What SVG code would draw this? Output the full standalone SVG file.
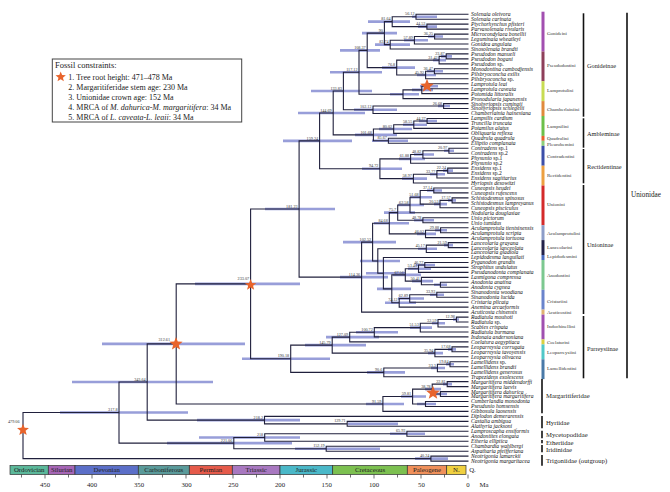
<svg xmlns="http://www.w3.org/2000/svg" width="670" height="492" viewBox="0 0 670 492">
<style>
.br{fill:none;stroke:#20203c;stroke-width:1.1}
.hpd{fill:none;stroke:#868dd2;stroke-width:2.6;opacity:.85}
.nl{font-family:"Liberation Serif",serif;font-size:4.2px;fill:#333;text-anchor:end}
.tip{font-family:"Liberation Serif",serif;font-size:5.6px;font-style:italic;fill:#111}
.tip tspan.n{font-style:normal}
.tr{font-family:"Liberation Serif",serif;font-size:5px;fill:#333}
.sf{font-family:"Liberation Serif",serif;font-size:6.3px;fill:#222}
.fm{font-family:"Liberation Serif",serif;font-size:6.7px;fill:#222}
.lg{font-family:"Liberation Serif",serif;font-size:8px;fill:#222}
.pe{font-family:"Liberation Serif",serif;font-size:6.8px;fill:#222;text-anchor:middle}
.ax{font-family:"Liberation Serif",serif;font-size:6.8px;fill:#222;text-anchor:middle}
.bk{stroke:#111;stroke-width:1.6}
.star{fill:#e8642c}
</style>
<defs>
<polygon id="star" points="0,-6 1.53,-2.1 5.71,-1.85 2.47,0.8 3.53,4.85 0,2.6 -3.53,4.85 -2.47,0.8 -5.71,-1.85 -1.53,-2.1"/>
</defs>
<rect width="670" height="492" fill="#fff"/>

<g id="hpd-bars">
<path class="hpd" d="M412 16.7H437M418 26.6H437M368 21.65H410M428 36.55H443M404 40.3H428M375 44.65H410M362 33.15H397M441 56.4H452M433 60.15H446M427 71.3H443M417 75H436M382 67.6H415M340 50.4H380M420 86.2H438M412 89.9H433M390 94.25H419M330 72.3H382M438 106.05H450M354 109.8H397M311 91.05H372M419 120.95H437M403 124.7H427M379 129.05H412M372 140.8H408M355 134.9H397M298 113H365M444 150.75H454M414 154.5H434M399 158.85H425M443 170.6H453M430 174.3H445M402 178.65H427M362 168.75H402M283 140.9H352M427 190.45H442M448 200.4H456M434 204.1H447M410 197.3H432M398 205.05H424M414 220.25H434M384 212.65H415M435 230.2H447M417 233.9H436M374 223.3H409M444 245.1H453M418 248.8H437M416 264.95H435M408 268.7H431M434 284.8H447M412 281.1H433M393 274.9H421M430 294.7H444M398 298.45H424M385 302.8H416M377 288.85H411M366 273.2H405M360 261H400M343 242.15H396M340 277.1H388M265 209H335M453 319.55H459M432 323.3H445M410 327.65H432M356 332.3H398M326 337.1H379M448 349.35H456M428 353.1H443M305 345.1H366M446 364.25H454M431 368H445M367 372.35H405M242 358.7H330M195 283.85H300M443 384.1H452M434 394.05H447M425 389.1H441M417 404H436M401 396.55H426M366 404H404M102 343.9H245M348 423.85H398M197 420.1H300M72 382H213M390 433.8H425M199 437.5H300M295 448.7H380M167 443.1H292M60 412.55H188M415 458.6H448"/>
</g>

<g id="connectors">
<path class="br" d="M468.5 14.2H416V19.2H468.5M468.5 24.1H426.9V29.1H468.5M416 16.7H392.2V26.6H426.9M468.5 34.1H434.6V39H468.5M434.6 36.55H414.4V44H468.5M414.4 40.3H390.2V49H468.5M392.2 21.65H384.4V44.65H390.2M468.5 53.9H446.2V58.9H468.5M446.2 56.4H439.1V63.9H468.5M468.5 68.8H434.4V73.8H468.5M434.4 71.3H425.6V78.7H468.5M439.1 60.15H396.7V75H425.6M384.4 33.15H367.2V67.6H396.7M468.5 83.7H428.3V88.7H468.5M428.3 86.2H421.8V93.6H468.5M421.8 89.9H403V98.6H468.5M367.2 50.4H359V94.25H403M468.5 103.6H443.6V108.5H468.5M443.6 106.05H373V113.5H468.5M359 72.3H343.4V109.8H373"/>
<path class="br" d="M468.5 118.5H427.1V123.4H468.5M427.1 120.95H413.8V128.4H468.5M413.8 124.7H393.7V133.4H468.5M468.5 138.3H388.4V143.3H468.5M393.7 129.05H373.4V140.8H388.4M343.4 91.05H333.2V134.9H373.4"/>
<path class="br" d="M468.5 148.3H448.9V153.2H468.5M448.9 150.75H422.9V158.2H468.5M422.9 154.5H410.6V163.2H468.5M468.5 168.1H447.7V173.1H468.5M447.7 170.6H436.9V178H468.5M436.9 174.3H413.4V183H468.5M410.6 158.85H379.9V178.65H413.4M333.2 113H319.6V168.75H379.9"/>
<path class="br" d="M468.5 188H433.8V192.9H468.5M468.5 197.9H452.1V202.9H468.5M452.1 200.4H440V207.8H468.5M433.8 190.45H420.2V204.1H440M420.2 197.3H410V212.8H468.5M468.5 217.8H422.9V222.7H468.5M410 205.05H397.7V220.25H422.9M468.5 227.7H440.6V232.7H468.5M440.6 230.2H425.5V237.6H468.5M397.7 212.65H389.3V233.9H425.5M468.5 242.6H448.3V247.6H468.5M448.3 245.1H426.3V252.5H468.5M468.5 262.5H424.8V267.4H468.5M424.8 264.95H418.5V272.4H468.5M468.5 282.3H440.4V287.3H468.5M468.5 277.4H421.4V284.8H440.4M418.5 268.7H405.3V281.1H421.4M468.5 292.2H436.8V297.2H468.5M436.8 294.7H409.7V302.2H468.5M409.7 298.45H399.2V307.1H468.5M405.3 274.9H391.8V302.8H399.2M468.5 257.5H383.4V288.85H391.8M426.3 248.8H377.8V273.2H383.4M389.3 223.3H372.6V261H377.8M372.6 242.15H361.6V312.1H468.5M319.6 140.9H299.1V277.1H361.6"/>
<path class="br" d="M468.5 317.1H456.4V322H468.5M456.4 319.55H438V327H468.5M438 323.3H420.3V332H468.5M420.3 327.65H374.3V336.9H468.5M374.3 332.3H349.7V341.9H468.5M468.5 346.9H452V351.8H468.5M452 349.35H434.9V356.8H468.5M349.7 337.1H332.2V353.1H434.9M468.5 361.8H450V366.7H468.5M450 364.25H437.4V371.7H468.5M437.4 368H383.8V376.7H468.5M332.2 345.1H290.7V372.35H383.8M299.1 209H250.6V358.7H290.7"/>
<path class="br" d="M468.5 381.6H447.2V386.6H468.5M468.5 391.6H440.4V396.5H468.5M447.2 384.1H432.2V394.05H440.4M468.5 401.5H425.5V406.5H468.5M432.2 389.1H412.6V404H425.5M412.6 396.55H382.9V411.4H468.5M250.6 283.85H176.2V404H382.9M468.5 421.4H347.2V426.3H468.5M468.5 416.4H264.5V423.85H347.2M176.2 343.9H147.2V420.1H264.5M468.5 431.3H406.9V436.3H468.5M406.9 433.8H264.7V441.2H468.5M468.5 446.2H326.2V451.2H468.5M264.7 437.5H233.8V448.7H326.2M147.2 382H119V443.1H233.8M468.5 456.1H430.9V461.1H468.5M119 412.55H23V458.6H430.9"/>
</g>

<g id="node-labels">
<g id="n-g1"><text class="nl" x="414.5" y="15.3">56.12</text></g>
<g id="n-g2"><text class="nl" x="425.4" y="25.2">44.53</text></g>
<g id="n-g3"><text class="nl" x="390.7" y="20.25">81.64</text></g>
<g id="n-g4"><text class="nl" x="433.1" y="35.15">36.25</text></g>
<g id="n-g5"><text class="nl" x="412.9" y="38.9">57.89</text></g>
<g id="n-g6"><text class="nl" x="388.7" y="43.25">83.74</text></g>
<g id="n-g7"><text class="nl" x="382.9" y="31.75">90</text></g>
<g id="n-p1"><text class="nl" x="444.7" y="55">23.87</text></g>
<g id="n-p2"><text class="nl" x="437.6" y="58.75">31.42</text></g>
<g id="n-p3"><text class="nl" x="432.9" y="69.9">36.47</text></g>
<g id="n-p4"><text class="nl" x="424.1" y="73.6">45.92</text></g>
<g id="n-p5"><text class="nl" x="395.2" y="66.2">76.8</text></g>
<g id="n-g8"><text class="nl" x="365.7" y="49">108.37</text></g>
<g id="n-g9"><text class="nl" x="357.5" y="70.9">117.12</text></g>
<g id="n-c1"><text class="nl" x="442.1" y="104.65">26.68</text></g>
<g id="n-c2"><text class="nl" x="371.5" y="108.4">102.12</text></g>
<g id="n-g10"><text class="nl" x="341.9" y="89.65">133.83</text></g>
<g id="n-a1"><text class="nl" x="425.6" y="119.55">44.27</text></g>
<g id="n-a2"><text class="nl" x="412.3" y="123.3">58.55</text></g>
<g id="n-a3"><text class="nl" x="392.2" y="127.65">80.02</text></g>
<g id="n-a4"><text class="nl" x="386.9" y="139.4">85.67</text></g>
<g id="n-a5"><text class="nl" x="371.9" y="133.5">101.68</text></g>
<g id="n-ga"><text class="nl" x="331.7" y="111.6">144.69</text></g>
<g id="n-r1"><text class="nl" x="447.4" y="149.35">20.97</text></g>
<g id="n-r2"><text class="nl" x="421.4" y="153.1">48.82</text></g>
<g id="n-r3"><text class="nl" x="409.1" y="157.45">61.88</text></g>
<g id="n-r4"><text class="nl" x="446.2" y="169.2">22.24</text></g>
<g id="n-r5"><text class="nl" x="435.4" y="172.9">33.77</text></g>
<g id="n-r6"><text class="nl" x="411.9" y="177.25">58.97</text></g>
<g id="n-r7"><text class="nl" x="378.4" y="167.35">94.72</text></g>
<g id="n-ra"><text class="nl" x="318.1" y="139.5">159.24</text></g>
<g id="n-u1"><text class="nl" x="432.3" y="189.05">37.14</text></g>
<g id="n-u2"><text class="nl" x="450.6" y="199">17.57</text></g>
<g id="n-u3"><text class="nl" x="438.5" y="202.7">30.53</text></g>
<g id="n-u4"><text class="nl" x="418.7" y="195.9">51.68</text></g>
<g id="n-u5"><text class="nl" x="408.5" y="203.65">62.58</text></g>
<g id="n-u6"><text class="nl" x="421.4" y="218.85">48.78</text></g>
<g id="n-u7"><text class="nl" x="396.2" y="211.25">75.7</text></g>
<g id="n-ac1"><text class="nl" x="439.1" y="228.8">29.88</text></g>
<g id="n-ac2"><text class="nl" x="424" y="232.5">46.02</text></g>
<g id="n-u8"><text class="nl" x="387.8" y="221.9">84.68</text></g>
<g id="n-la1"><text class="nl" x="446.8" y="243.7">21.59</text></g>
<g id="n-la2"><text class="nl" x="424.8" y="247.4">45.17</text></g>
<g id="n-an1"><text class="nl" x="423.3" y="263.55">46.77</text></g>
<g id="n-an2"><text class="nl" x="417" y="267.3">53.46</text></g>
<g id="n-an3"><text class="nl" x="419.9" y="279.7">50.41</text></g>
<g id="n-an5"><text class="nl" x="403.8" y="273.5">67.56</text></g>
<g id="n-cr1"><text class="nl" x="435.3" y="293.3">33.93</text></g>
<g id="n-cr2"><text class="nl" x="408.2" y="297.05">62.89</text></g>
<g id="n-cr3"><text class="nl" x="397.7" y="301.4">74.12</text></g>
<g id="n-u9"><text class="nl" x="371.1" y="240.75">102.52</text></g>
<g id="n-un"><text class="nl" x="360.1" y="275.7">114.36</text></g>
<g id="n-u181"><text class="nl" x="297.6" y="207.6">181.23</text></g>
<g id="n-pa1"><text class="nl" x="454.9" y="318.15">12.98</text></g>
<g id="n-pa2"><text class="nl" x="436.5" y="321.9">32.59</text></g>
<g id="n-pa3"><text class="nl" x="418.8" y="326.25">51.53</text></g>
<g id="n-pa4"><text class="nl" x="372.8" y="330.9">100.72</text></g>
<g id="n-pa5"><text class="nl" x="348.2" y="335.7">127.09</text></g>
<g id="n-le1"><text class="nl" x="450.5" y="347.95">17.68</text></g>
<g id="n-le2"><text class="nl" x="433.4" y="351.7">35.94</text></g>
<g id="n-pa6"><text class="nl" x="330.7" y="343.7">145.79</text></g>
<g id="n-lm1"><text class="nl" x="448.5" y="362.85">19.84</text></g>
<g id="n-lm2"><text class="nl" x="435.9" y="366.6">33.3</text></g>
<g id="n-lm3"><text class="nl" x="382.3" y="370.95">90.6</text></g>
<g id="n-pa"><text class="nl" x="289.2" y="357.3">190.18</text></g>
<g id="n-u233"><text class="nl" x="249.1" y="280">233.07</text></g>
<g id="n-m1"><text class="nl" x="445.7" y="382.7">22.81</text></g>
<g id="n-m2"><text class="nl" x="430.7" y="387.7">38.78</text></g>
<g id="n-m4"><text class="nl" x="411.1" y="395.15">59.81</text></g>
<g id="n-m6"><text class="nl" x="381.4" y="402.6">91.59</text></g>
<g id="n-u312"><text class="nl" x="170" y="340.5">312.61</text></g>
<g id="n-h2"><text class="nl" x="345.7" y="422.45">129.71</text></g>
<g id="n-h1"><text class="nl" x="263" y="418.7">218.2</text></g>
<g id="n-n343"><text class="nl" x="145.7" y="380.6">343.64</text></g>
<g id="n-my"><text class="nl" x="405.4" y="432.4">65.93</text></g>
<g id="n-e1"><text class="nl" x="263.2" y="436.1">218</text></g>
<g id="n-ir"><text class="nl" x="324.7" y="447.3">152.19</text></g>
<g id="n-e2"><text class="nl" x="232.3" y="441.7">221.06</text></g>
<g id="n-n377"><text class="nl" x="117.5" y="411.15">317.8</text></g>
<g id="n-tr"><text class="nl" x="429.4" y="457.2">40.24</text></g>
<g id="n-root"><text class="nl" x="19.5" y="423">479.06</text></g>
</g>

<g id="stars">
<use href="#star" class="star" transform="translate(23 430) scale(1.05)"/>
<use href="#star" class="star" transform="translate(176 344) scale(1.15)"/>
<use href="#star" class="star" transform="translate(250.6 285) scale(1)"/>
<use href="#star" class="star" transform="translate(427 86) scale(1.2)"/>
<use href="#star" class="star" transform="translate(433 393) scale(1.2)"/>
</g>

<g id="tips">
<g id="t0"><text class="tip" x="471" y="16.1">Solenaia oleivora</text></g>
<g id="t1"><text class="tip" x="471" y="21.1">Solenaia carinata</text></g>
<g id="t2"><text class="tip" x="471" y="26">Ptychorhynchus pfisteri</text></g>
<g id="t3"><text class="tip" x="471" y="31">Parvasolenaia rivularis</text></g>
<g id="t4"><text class="tip" x="471" y="36">Microcondylaea bonellii</text></g>
<g id="t5"><text class="tip" x="471" y="40.9">Leguminaia wheatleyi</text></g>
<g id="t6"><text class="tip" x="471" y="45.9">Gonidea angulata</text></g>
<g id="t7"><text class="tip" x="471" y="50.9">Sinosolenaia brandti</text></g>
<g id="t8"><text class="tip" x="471" y="55.8">Pseudodon manueli</text></g>
<g id="t9"><text class="tip" x="471" y="60.8">Pseudodon bogani</text></g>
<g id="t10"><text class="tip" x="471" y="65.8">Pseudodon <tspan class="n">sp.</tspan></text></g>
<g id="t11"><text class="tip" x="471" y="70.7">Monodontina cambodjensis</text></g>
<g id="t12"><text class="tip" x="471" y="75.7">Pilsbryoconcha exilis</text></g>
<g id="t13"><text class="tip" x="471" y="80.6">Pilsbryoconcha <tspan class="n">sp.</tspan></text></g>
<g id="t14"><text class="tip" x="471" y="85.6">Lamprotula leai</text></g>
<g id="t15"><text class="tip" x="471" y="90.6">Lamprotula caveata</text></g>
<g id="t16"><text class="tip" x="471" y="95.5">Potomida littoralis</text></g>
<g id="t17"><text class="tip" x="471" y="100.5">Pronodularia japanensis</text></g>
<g id="t18"><text class="tip" x="471" y="105.5">Sinohyriopsis cumingii</text></g>
<g id="t19"><text class="tip" x="471" y="110.4">Sinohyriopsis schlegelii</text></g>
<g id="t20"><text class="tip" x="471" y="115.4">Chamberlainia hainesiana</text></g>
<g id="t21"><text class="tip" x="471" y="120.4">Lampsilis cardium</text></g>
<g id="t22"><text class="tip" x="471" y="125.3">Truncilla truncata</text></g>
<g id="t23"><text class="tip" x="471" y="130.3">Potamilus alatus</text></g>
<g id="t24"><text class="tip" x="471" y="135.3">Obliquaria reflexa</text></g>
<g id="t25"><text class="tip" x="471" y="140.2">Quadrula quadrula</text></g>
<g id="t26"><text class="tip" x="471" y="145.2">Elliptio complanata</text></g>
<g id="t27"><text class="tip" x="471" y="150.2">Contradens <tspan class="n">sp.1</tspan></text></g>
<g id="t28"><text class="tip" x="471" y="155.1">Contradens <tspan class="n">sp.2</tspan></text></g>
<g id="t29"><text class="tip" x="471" y="160.1">Physunio <tspan class="n">sp.1</tspan></text></g>
<g id="t30"><text class="tip" x="471" y="165.1">Physunio <tspan class="n">sp.2</tspan></text></g>
<g id="t31"><text class="tip" x="471" y="170">Ensidens <tspan class="n">sp.1</tspan></text></g>
<g id="t32"><text class="tip" x="471" y="175">Ensidens <tspan class="n">sp.2</tspan></text></g>
<g id="t33"><text class="tip" x="471" y="179.9">Ensidens sagittarius</text></g>
<g id="t34"><text class="tip" x="471" y="184.9">Hyriopsis desowitzi</text></g>
<g id="t35"><text class="tip" x="471" y="189.9">Cuneopsis heudei</text></g>
<g id="t36"><text class="tip" x="471" y="194.8">Cuneopsis rufescens</text></g>
<g id="t37"><text class="tip" x="471" y="199.8">Schistodesmus spinosus</text></g>
<g id="t38"><text class="tip" x="471" y="204.8">Schistodesmus lampreyanus</text></g>
<g id="t39"><text class="tip" x="471" y="209.7">Cuneopsis pisciculus</text></g>
<g id="t40"><text class="tip" x="471" y="214.7">Nodularia douglasiae</text></g>
<g id="t41"><text class="tip" x="471" y="219.7">Unio pictorum</text></g>
<g id="t42"><text class="tip" x="471" y="224.6">Unio tumidus</text></g>
<g id="t43"><text class="tip" x="471" y="229.6">Aculamprotula tientsinensis</text></g>
<g id="t44"><text class="tip" x="471" y="234.6">Aculamprotula scripta</text></g>
<g id="t45"><text class="tip" x="471" y="239.5">Aculamprotula tortuosa</text></g>
<g id="t46"><text class="tip" x="471" y="244.5">Lanceolaria grayana</text></g>
<g id="t47"><text class="tip" x="471" y="249.5">Lanceolaria lanceolata</text></g>
<g id="t48"><text class="tip" x="471" y="254.4">Lanceolaria gladiola</text></g>
<g id="t49"><text class="tip" x="471" y="259.4">Lepidodesma languilati</text></g>
<g id="t50"><text class="tip" x="471" y="264.4">Pyganodon grandis</text></g>
<g id="t51"><text class="tip" x="471" y="269.3">Strophitus undulatus</text></g>
<g id="t52"><text class="tip" x="471" y="274.3">Pseudanodonta complanata</text></g>
<g id="t53"><text class="tip" x="471" y="279.3">Lasmigona compressa</text></g>
<g id="t54"><text class="tip" x="471" y="284.2">Anodonta anatina</text></g>
<g id="t55"><text class="tip" x="471" y="289.2">Anodonta cygnea</text></g>
<g id="t56"><text class="tip" x="471" y="294.1">Sinanodonta woodiana</text></g>
<g id="t57"><text class="tip" x="471" y="299.1">Sinanodonta lucida</text></g>
<g id="t58"><text class="tip" x="471" y="304.1">Cristaria plicata</text></g>
<g id="t59"><text class="tip" x="471" y="309">Anemina arcaeformis</text></g>
<g id="t60"><text class="tip" x="471" y="314">Acuticosta chinensis</text></g>
<g id="t61"><text class="tip" x="471" y="319">Radiatula mouhoti</text></g>
<g id="t62"><text class="tip" x="471" y="323.9">Radiatula <tspan class="n">sp.</tspan></text></g>
<g id="t63"><text class="tip" x="471" y="328.9">Scabies crispata</text></g>
<g id="t64"><text class="tip" x="471" y="333.9">Radiatula burmana</text></g>
<g id="t65"><text class="tip" x="471" y="338.8">Indonaia andersoniana</text></g>
<g id="t66"><text class="tip" x="471" y="343.8">Coelatura aegyptiaca</text></g>
<g id="t67"><text class="tip" x="471" y="348.8">Leoparreysia corrugata</text></g>
<g id="t68"><text class="tip" x="471" y="353.7">Leoparreysia tavoyensis</text></g>
<g id="t69"><text class="tip" x="471" y="358.7">Leoparreysia olivacea</text></g>
<g id="t70"><text class="tip" x="471" y="363.7">Lamellidens <tspan class="n">sp.</tspan></text></g>
<g id="t71"><text class="tip" x="471" y="368.6">Lamellidens brandti</text></g>
<g id="t72"><text class="tip" x="471" y="373.6">Lamellidens generosus</text></g>
<g id="t73"><text class="tip" x="471" y="378.6">Trapezidens exolescens</text></g>
<g id="t74"><text class="tip" x="471" y="383.5">Margaritifera middendorffi</text></g>
<g id="t75"><text class="tip" x="471" y="388.5">Margaritifera laevis</text></g>
<g id="t76"><text class="tip" x="471" y="393.5">Margaritifera dahurica</text></g>
<g id="t77"><text class="tip" x="471" y="398.4">Margaritifera margaritifera</text></g>
<g id="t78"><text class="tip" x="471" y="403.4">Cumberlandia monodonta</text></g>
<g id="t79"><text class="tip" x="471" y="408.4">Pseudunio homsensis</text></g>
<g id="t80"><text class="tip" x="471" y="413.3">Gibbosula laosensis</text></g>
<g id="t81"><text class="tip" x="471" y="418.3">Diplodon demerarensis</text></g>
<g id="t82"><text class="tip" x="471" y="423.3">Castalia ambigua</text></g>
<g id="t83"><text class="tip" x="471" y="428.2">Alathyria jacksoni</text></g>
<g id="t84"><text class="tip" x="471" y="433.2">Lamproscapha ensiformis</text></g>
<g id="t85"><text class="tip" x="471" y="438.2">Anodontites elongata</text></g>
<g id="t86"><text class="tip" x="471" y="443.1">Etheria elliptica</text></g>
<g id="t87"><text class="tip" x="471" y="448.1">Chambardia wahlbergi</text></g>
<g id="t88"><text class="tip" x="471" y="453.1">Aspatharia pfeifferiana</text></g>
<g id="t89"><text class="tip" x="471" y="458">Neotrigonia lamarckii</text></g>
<g id="t90"><text class="tip" x="471" y="463">Neotrigonia margaritacea</text></g>
</g>

<g id="tribes">
<rect x="541.5" y="11.7" width="3" height="39.8" fill="#a24fb0"/>
<rect x="541.5" y="51.5" width="3" height="29.7" fill="#8e3f5a"/>
<rect x="541.5" y="81.2" width="3" height="19.9" fill="#c8dc52"/>
<rect x="541.5" y="101.1" width="3" height="14.9" fill="#e08a3c"/>
<rect x="541.5" y="116" width="3" height="19.9" fill="#6cc04a"/>
<rect x="541.5" y="135.9" width="3" height="4.9" fill="#e8602c"/>
<rect x="541.5" y="140.8" width="3" height="5" fill="#8ed07a"/>
<rect x="541.5" y="145.8" width="3" height="19.9" fill="#3c4fa8"/>
<rect x="541.5" y="165.7" width="3" height="19.8" fill="#eda040"/>
<rect x="541.5" y="185.5" width="3" height="39.7" fill="#d42a2a"/>
<rect x="541.5" y="225.2" width="3" height="14.9" fill="#8c9cc8"/>
<rect x="541.5" y="240.1" width="3" height="14.9" fill="#22224a"/>
<rect x="541.5" y="255" width="3" height="5" fill="#4a6cc0"/>
<rect x="541.5" y="260" width="3" height="29.8" fill="#7cc890"/>
<rect x="541.5" y="289.8" width="3" height="19.8" fill="#6a84cc"/>
<rect x="541.5" y="309.6" width="3" height="5" fill="#e0b070"/>
<rect x="541.5" y="314.6" width="3" height="24.8" fill="#a050b0"/>
<rect x="541.5" y="339.4" width="3" height="5" fill="#d8d040"/>
<rect x="541.5" y="344.4" width="3" height="14.9" fill="#50c8c8"/>
<rect x="541.5" y="359.3" width="3" height="19.8" fill="#4a7aa8"/>
<text class="tr" x="547" y="35">Gonideini</text>
<text class="tr" x="547" y="67.4">Pseudodontini</text>
<text class="tr" x="547" y="92.4">Lamprotulini</text>
<text class="tr" x="547" y="110.7">Chamberlainiini</text>
<text class="tr" x="547" y="127.7">Lampsilini</text>
<text class="tr" x="547" y="140">Quadrulini</text>
<text class="tr" x="547" y="146">Pleurobemini</text>
<text class="tr" x="547" y="157.7">Contradentini</text>
<text class="tr" x="547" y="177.4">Rectidentini</text>
<text class="tr" x="547" y="205.7">Unionini</text>
<text class="tr" x="547" y="235">Aculamprotulini</text>
<text class="tr" x="547" y="249">Lanceolarini</text>
<text class="tr" x="547" y="258.4">Lepidodesmini</text>
<text class="tr" x="547" y="276.7">Anodontini</text>
<text class="tr" x="547" y="303.4">Cristariini</text>
<text class="tr" x="547" y="314">Acuticostini</text>
<text class="tr" x="547" y="328.4">Indochinellini</text>
<text class="tr" x="547" y="344">Coelaturini</text>
<text class="tr" x="547" y="354">Leoparreysiini</text>
<text class="tr" x="547" y="370">Lamellidentini</text>
</g>

<g id="subfamilies">
<line class="bk" x1="583.5" y1="13.3" x2="583.5" y2="116.7"/>
<line class="bk" x1="583.5" y1="118.3" x2="583.5" y2="147.7"/>
<line class="bk" x1="583.5" y1="149" x2="583.5" y2="183.3"/>
<line class="bk" x1="583.5" y1="185" x2="583.5" y2="314"/>
<line class="bk" x1="583.5" y1="316" x2="583.5" y2="378.3"/>
<text class="sf" x="587" y="68">Gonideinae</text>
<text class="sf" x="587" y="136">Ambleminae</text>
<text class="sf" x="587" y="169.3">Rectidentinae</text>
<text class="sf" x="587" y="246.5">Unioninae</text>
<text class="sf" x="587" y="351">Parreysiinae</text>
<line class="bk" x1="627" y1="12.7" x2="627" y2="378.3"/>
<text class="fm" x="631" y="196.7" style="font-size:7.2px">Unionidae</text>
</g>

<g id="families">
<line class="bk" x1="542" y1="379" x2="542" y2="413.3"/>
<line class="bk" x1="542" y1="416" x2="542" y2="428.3"/>
<line class="bk" x1="542" y1="430.7" x2="542" y2="438.3"/>
<line class="bk" x1="542" y1="440" x2="542" y2="443.3"/>
<line class="bk" x1="542" y1="445" x2="542" y2="452.3"/>
<line class="bk" x1="542" y1="455" x2="542" y2="465.7"/>
<text class="fm" x="546" y="398">Margaritiferidae</text>
<text class="fm" x="546" y="425">Hyriidae</text>
<text class="fm" x="546" y="436.6">Mycetopodidae</text>
<text class="fm" x="546" y="444.6">Etheriidae</text>
<text class="fm" x="546" y="451.6">Iridinidae</text>
<text class="fm" x="546" y="463.3">Trigoniidae (outgroup)</text>
</g>

<g id="legend">
<rect x="52.3" y="59" width="189.4" height="63" fill="#fff" stroke="#444" stroke-width="1"/>
<text class="lg" x="55" y="67.8" style="font-size:8.5px">Fossil constraints:</text>
<use href="#star" class="star" transform="translate(60.7 77) scale(0.9)"/>
<text class="lg" x="68.3" y="80">1. Tree root height: 471–478 Ma</text>
<text class="lg" x="68.3" y="90">2. Margaritiferidae stem age: 230 Ma</text>
<text class="lg" x="68.3" y="100">3. Unionidae crown age: 152 Ma</text>
<text class="lg" x="68.3" y="110">4. MRCA of <tspan font-style="italic">M. dahurica-M. margaritifera</tspan>: 34 Ma</text>
<text class="lg" x="68.3" y="120">5. MRCA of <tspan font-style="italic">L. caveata-L. leaii</tspan>: 34 Ma</text>
</g>

<g id="timescale">
<g stroke="#333" stroke-width="0.7">
<rect x="10" y="465.5" width="38.3" height="9" fill="#5bb89a"/>
<rect x="48.3" y="465.5" width="26.7" height="9" fill="#a565b5"/>
<rect x="75" y="465.5" width="63.3" height="9" fill="#5b6fc8"/>
<rect x="138.3" y="465.5" width="51" height="9" fill="#5a9a9a"/>
<rect x="189.3" y="465.5" width="43" height="9" fill="#e55a4a"/>
<rect x="232.3" y="465.5" width="47.7" height="9" fill="#a878c0"/>
<rect x="280" y="465.5" width="52.7" height="9" fill="#4ab8c8"/>
<rect x="332.7" y="465.5" width="74.6" height="9" fill="#7cc050"/>
<rect x="407.3" y="465.5" width="39.4" height="9" fill="#f0905a"/>
<rect x="446.7" y="465.5" width="19.3" height="9" fill="#f0d040"/>
</g>
<text class="pe" x="29.2" y="472.4">Ordovician</text>
<text class="pe" x="61.7" y="472.4">Silurian</text>
<text class="pe" x="106.7" y="472.4">Devonian</text>
<text class="pe" x="163.8" y="472.4">Carboniferous</text>
<text class="pe" x="210.8" y="472.4">Permian</text>
<text class="pe" x="256.2" y="472.4">Triassic</text>
<text class="pe" x="306.3" y="472.4">Jurassic</text>
<text class="pe" x="370" y="472.4">Cretaceous</text>
<text class="pe" x="427" y="472.4">Paleogene</text>
<text class="pe" x="456.3" y="472.4">N.</text>
<text class="pe" x="472.5" y="472.4">Q.</text>
<path d="M21.5 474.5V477.5M45 474.5V478.5M68.5 474.5V477.5M92 474.5V478.5M115.5 474.5V477.5M139 474.5V478.5M162.5 474.5V477.5M186 474.5V478.5M209.5 474.5V477.5M233 474.5V478.5M256.5 474.5V477.5M280 474.5V478.5M303.5 474.5V477.5M327 474.5V478.5M350.5 474.5V477.5M374 474.5V478.5M397.5 474.5V477.5M421 474.5V478.5M444.5 474.5V477.5M468 474.5V478.5" stroke="#333" stroke-width="0.7"/>
<text class="ax" x="45" y="487.3">450</text>
<text class="ax" x="92" y="487.3">400</text>
<text class="ax" x="139" y="487.3">350</text>
<text class="ax" x="186.5" y="487.3">300</text>
<text class="ax" x="233.3" y="487.3">250</text>
<text class="ax" x="280" y="487.3">200</text>
<text class="ax" x="326.7" y="487.3">150</text>
<text class="ax" x="374" y="487.3">100</text>
<text class="ax" x="421.5" y="487.3">50</text>
<text class="ax" x="468" y="487.3">0</text>
<text class="ax" x="484" y="487.3">Ma</text>
</g>
</svg>
